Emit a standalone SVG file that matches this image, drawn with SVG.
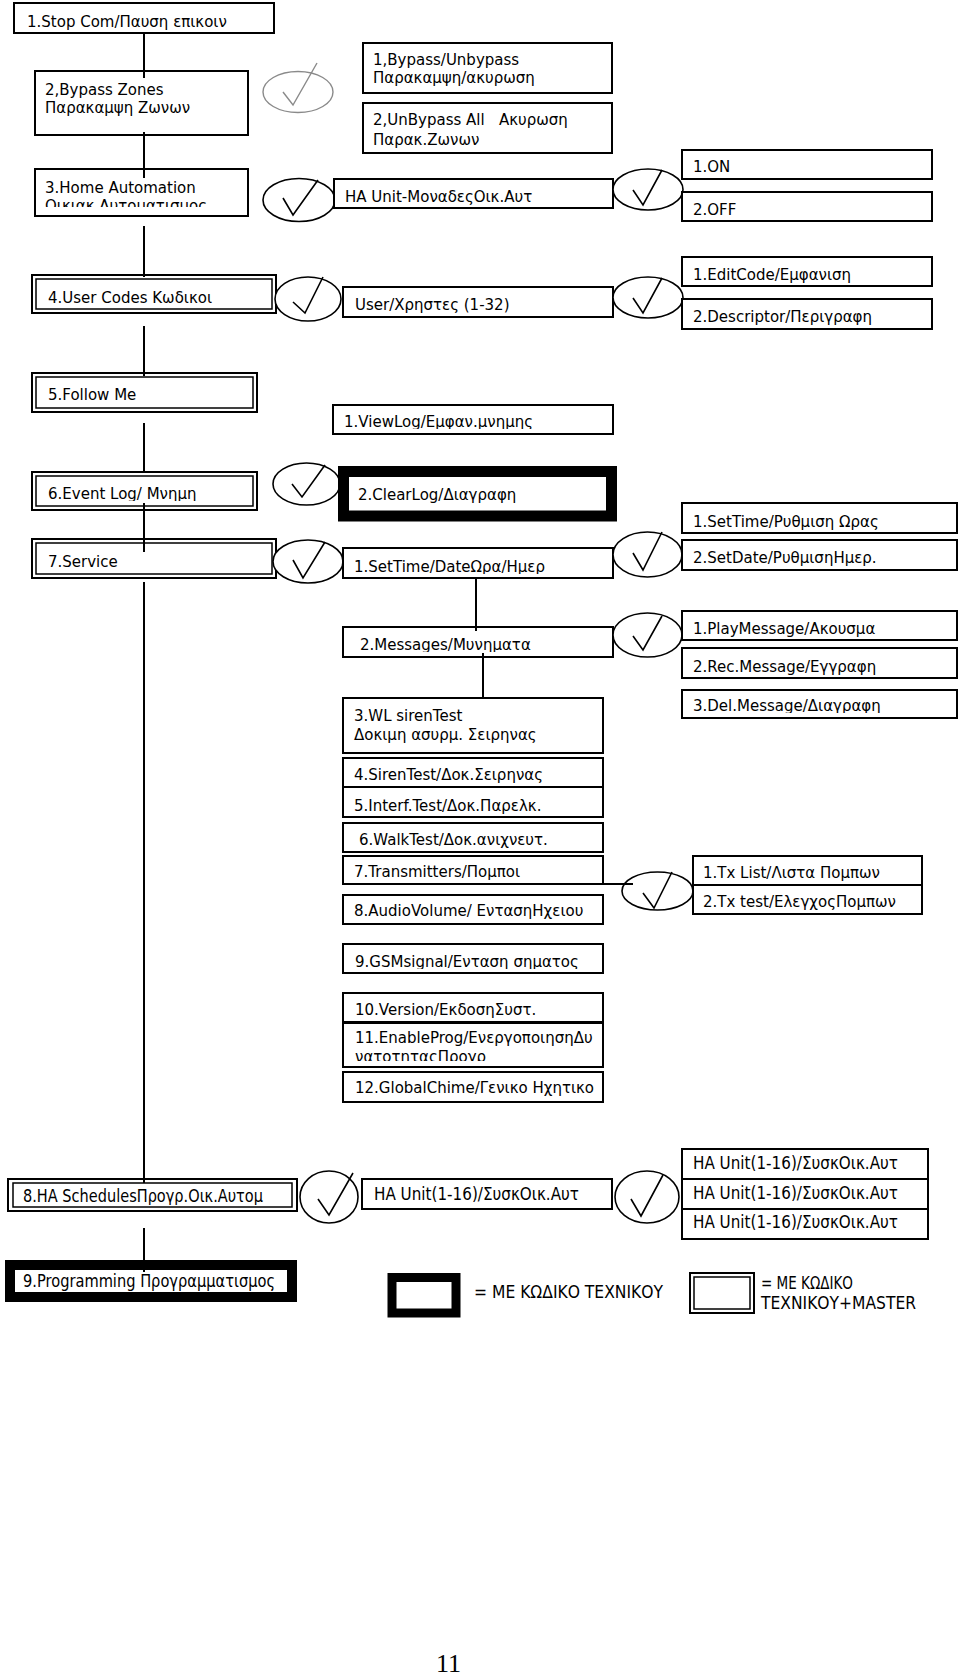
<svg xmlns="http://www.w3.org/2000/svg" width="960" height="1676" viewBox="0 0 960 1676">
<style>
.b{fill:#fff;stroke:#000;stroke-width:2}
.bi{fill:none;stroke:#000;stroke-width:1.5}
.k{fill:none;stroke:#000;stroke-width:11}
.t{font-family:"DejaVu Sans","Noto Sans",sans-serif;font-size:15px;fill:#000;white-space:pre}
.n{font-family:"DejaVu Sans","Noto Sans",sans-serif;font-size:17px;fill:#000;white-space:pre}
.e{fill:#fff;stroke:#000;stroke-width:1.6}
.eg{fill:#fff;stroke:#8a8a8a;stroke-width:1.4}
.ck{fill:none;stroke:#000;stroke-width:1.6;stroke-linejoin:miter}
.ckg{fill:none;stroke:#8a8a8a;stroke-width:1.4}
.ln{fill:none;stroke:#000;stroke-width:2}
.pg{font-family:"Liberation Serif","Times New Roman",serif;font-size:26px;fill:#000}
</style>
<defs>
<clipPath id="c3" clipPathUnits="userSpaceOnUse"><rect x="35" y="169" width="213" height="38"/></clipPath>
<clipPath id="c6" clipPathUnits="userSpaceOnUse"><rect x="36" y="476" width="217" height="25"/></clipPath>
<clipPath id="c11" clipPathUnits="userSpaceOnUse"><rect x="343" y="1023" width="260" height="38"/></clipPath>
<clipPath id="c8" clipPathUnits="userSpaceOnUse"><rect x="13" y="1183" width="280" height="22"/></clipPath>
<clipPath id="cPlay" clipPathUnits="userSpaceOnUse"><rect x="682" y="611" width="275" height="26"/></clipPath>
<clipPath id="cRec" clipPathUnits="userSpaceOnUse"><rect x="682" y="648" width="275" height="27"/></clipPath>
<clipPath id="cDel" clipPathUnits="userSpaceOnUse"><rect x="682" y="690" width="275" height="23"/></clipPath>
<clipPath id="cMsg" clipPathUnits="userSpaceOnUse"><rect x="343" y="627" width="270" height="25"/></clipPath>
<clipPath id="cGsm" clipPathUnits="userSpaceOnUse"><rect x="343" y="944" width="260" height="25"/></clipPath>
<clipPath id="cView" clipPathUnits="userSpaceOnUse"><rect x="333" y="405" width="280" height="24"/></clipPath>
<clipPath id="cDesc" clipPathUnits="userSpaceOnUse"><rect x="682" y="299" width="250" height="26"/></clipPath>
<clipPath id="cSTD" clipPathUnits="userSpaceOnUse"><rect x="343" y="548" width="270" height="26"/></clipPath>
</defs>
<rect width="960" height="1676" fill="#fff"/>

<!-- main menu column -->
<g id="m1"><rect class="b" x="14" y="3" width="260" height="30"/><text class="t" x="27" y="27">1.Stop Com/Παυση επικοιν</text></g>
<g id="m2"><rect class="b" x="35" y="71" width="213" height="64"/><text class="t" x="45" y="95">2,Bypass Zones</text><text class="t" x="45" y="113">Παρακαμψη Ζωνων</text></g>
<g id="m3"><rect class="b" x="35" y="169" width="213" height="47"/><text class="t" x="45" y="193">3.Home Automation</text><text class="t" x="45" y="211" clip-path="url(#c3)">Οικιακ Αυτοματισμος</text></g>
<g id="m4"><rect class="b" x="32" y="275" width="244" height="38"/><rect class="bi" x="36" y="279" width="236" height="30"/><text class="t" x="48" y="303">4.User Codes Κωδικοι</text></g>
<g id="m5"><rect class="b" x="32" y="373" width="225" height="39"/><rect class="bi" x="36" y="377" width="217" height="31"/><text class="t" x="48" y="400">5.Follow Me</text></g>
<g id="m6"><rect class="b" x="32" y="472" width="225" height="38"/><rect class="bi" x="36" y="476" width="217" height="30"/><text class="t" x="48" y="499" clip-path="url(#c6)">6.Event Log/ Μνημη</text></g>
<g id="m7"><rect class="b" x="32" y="539" width="244" height="39"/><rect class="bi" x="36" y="543" width="236" height="31"/><text class="t" x="48" y="567">7.Service</text></g>
<g id="m8"><rect class="b" x="8" y="1179" width="289" height="32"/><rect class="bi" x="13" y="1183" width="279" height="24"/><text class="n" x="23" y="1202" textLength="240" lengthAdjust="spacingAndGlyphs" clip-path="url(#c8)">8.HA SchedulesΠρογρ.Οικ.Αυτομ</text></g>
<g id="m9"><rect class="b" x="10" y="1265" width="282" height="32" style="stroke-width:10"/><text class="n" x="23" y="1287" textLength="252" lengthAdjust="spacingAndGlyphs">9.Programming Προγραμματισμος</text></g>

<!-- bypass -->
<g id="e1"><ellipse class="eg" cx="298" cy="92" rx="35" ry="20.5"/><polyline class="ckg" points="283,92 293,105 317,63"/></g>
<g id="bp1"><rect class="b" x="363" y="43" width="249" height="50"/><text class="t" x="373" y="65">1,Bypass/Unbypass</text><text class="t" x="373" y="83">Παρακαμψη/ακυρωση</text></g>
<g id="bp2"><rect class="b" x="363" y="103" width="249" height="50"/><text class="t" x="373" y="125" xml:space="preserve">2,UnBypass All   Ακυρωση</text><text class="t" x="373" y="145">Παρακ.Ζωνων</text></g>

<!-- home automation -->
<g id="e2"><ellipse class="e" cx="299" cy="200" rx="36" ry="21.5"/><polyline class="ck" points="283,198 293,215 318,180"/></g>
<g id="ha"><rect class="b" x="334" y="179" width="279" height="29"/><text class="t" x="345" y="202">HA Unit-ΜοναδεςΟικ.Αυτ</text></g>
<g id="e3"><ellipse class="e" cx="648" cy="189.5" rx="35" ry="20.5"/><polyline class="ck" points="633,190 643,205 662,170"/></g>
<g id="on"><rect class="b" x="682" y="150" width="250" height="29"/><text class="t" x="693" y="172">1.ON</text></g>
<g id="off"><rect class="b" x="682" y="192" width="250" height="29"/><text class="t" x="693" y="215">2.OFF</text></g>

<!-- user codes -->
<g id="e5"><ellipse class="e" cx="308" cy="299" rx="33" ry="22"/><polyline class="ck" points="293,302 305,313 323,277"/></g>
<g id="user"><rect class="b" x="343" y="287" width="270" height="30"/><text class="t" x="355" y="310">User/Χρηστες (1-32)</text></g>
<g id="e4"><ellipse class="e" cx="648" cy="297.5" rx="35" ry="20.5"/><polyline class="ck" points="633,298 643,313 662,278"/></g>
<g id="edit"><rect class="b" x="682" y="257" width="250" height="29"/><text class="t" x="693" y="280">1.EditCode/Εμφανιση</text></g>
<g id="desc"><rect class="b" x="682" y="299" width="250" height="30"/><text class="t" x="693" y="322" clip-path="url(#cDesc)">2.Descriptor/Περιγραφη</text></g>

<!-- event log -->
<g id="view"><rect class="b" x="333" y="405" width="280" height="29"/><text class="t" x="344" y="427" clip-path="url(#cView)">1.ViewLog/Εμφαν.μνημης</text></g>
<g id="e6"><ellipse class="e" cx="306.5" cy="484" rx="33.5" ry="21"/><polyline class="ck" points="292,484 302,497 325,465"/></g>
<g id="clear"><rect class="k" x="343.5" y="471.5" width="268" height="44.5"/><text class="t" x="358" y="500">2.ClearLog/Διαγραφη</text></g>

<!-- service -->
<g id="e7"><ellipse class="e" cx="308" cy="561.5" rx="35" ry="21.5"/><polyline class="ck" points="293,560 303,578 325,542"/></g>
<g id="std"><rect class="b" x="343" y="548" width="270" height="30"/><text class="t" x="354" y="572" clip-path="url(#cSTD)">1.SetTime/DateΩρα/Ημερ</text></g>
<g id="e8"><ellipse class="e" cx="647.5" cy="554.5" rx="34.5" ry="22.5"/><polyline class="ck" points="633,553 643,570 662,532"/></g>
<g id="st"><rect class="b" x="682" y="503" width="275" height="30"/><text class="t" x="693" y="527">1.SetTime/Ρυθμιση Ωρας</text></g>
<g id="sd"><rect class="b" x="682" y="540" width="275" height="30"/><text class="t" x="693" y="563">2.SetDate/ΡυθμισηΗμερ.</text></g>

<g id="msg"><rect class="b" x="343" y="627" width="270" height="30"/><text class="t" x="360" y="650" clip-path="url(#cMsg)">2.Messages/Μυνηματα</text></g>
<g id="e9"><ellipse class="e" cx="647.5" cy="635" rx="34.5" ry="22"/><polyline class="ck" points="633,636 643,650 662,616"/></g>
<g id="play"><rect class="b" x="682" y="611" width="275" height="29"/><text class="t" x="693" y="634" clip-path="url(#cPlay)">1.PlayMessage/Ακουσμα</text></g>
<g id="rec"><rect class="b" x="682" y="648" width="275" height="30"/><text class="t" x="693" y="672" clip-path="url(#cRec)">2.Rec.Message/Εγγραφη</text></g>
<g id="del"><rect class="b" x="682" y="690" width="275" height="28"/><text class="t" x="693" y="711" clip-path="url(#cDel)">3.Del.Message/Διαγραφη</text></g>

<g id="wl"><rect class="b" x="343" y="698" width="260" height="55"/><text class="t" x="354" y="721">3.WL sirenTest</text><text class="t" x="354" y="740">Δοκιμη ασυρμ. Σειρηνας</text></g>
<g id="siren"><rect class="b" x="343" y="758" width="260" height="29"/><text class="t" x="354" y="780">4.SirenTest/Δοκ.Σειρηνας</text></g>
<g id="interf"><rect class="b" x="343" y="787" width="260" height="30"/><text class="t" x="354" y="811">5.Interf.Test/Δοκ.Παρελκ.</text></g>
<g id="walk"><rect class="b" x="343" y="823" width="260" height="29"/><text class="t" x="359" y="845">6.WalkTest/Δοκ.ανιχνευτ.</text></g>
<g id="tx"><rect class="b" x="343" y="856" width="260" height="28"/><text class="t" x="354" y="877">7.Transmitters/Πομποι</text></g>
<g id="audio"><rect class="b" x="343" y="895" width="260" height="29"/><text class="t" x="354" y="916">8.AudioVolume/ ΕντασηΗχειου</text></g>
<g id="e10"><ellipse class="e" cx="657.5" cy="891" rx="35.5" ry="19"/><polyline class="ck" points="643,893 654,908 672,872"/></g>
<g id="txl"><rect class="b" x="693" y="856" width="229" height="29"/><text class="t" x="703" y="878">1.Tx List/Λιστα Πομπων</text></g>
<g id="txt"><rect class="b" x="693" y="885" width="229" height="29"/><text class="t" x="703" y="907">2.Tx test/ΕλεγχοςΠομπων</text></g>
<g id="gsm"><rect class="b" x="343" y="944" width="260" height="29"/><text class="t" x="355" y="967" clip-path="url(#cGsm)">9.GSMsignal/Ενταση σηματος</text></g>
<g id="ver"><rect class="b" x="343" y="993" width="260" height="29"/><text class="t" x="355" y="1015">10.Version/ΕκδοσηΣυστ.</text></g>
<g id="en"><rect class="b" x="343" y="1023" width="260" height="44"/><text class="t" x="355" y="1043">11.EnableProg/ΕνεργοποιησηΔυ</text><text class="t" x="355" y="1062" clip-path="url(#c11)">νατοτηταςΠρογρ</text></g>
<g id="chime"><rect class="b" x="343" y="1072" width="260" height="30"/><text class="t" x="355" y="1093">12.GlobalChime/Γενικο Ηχητικο</text></g>

<!-- HA schedules -->
<g id="e11"><ellipse class="e" cx="329" cy="1197" rx="29" ry="26"/><polyline class="ck" points="318,1199 329,1215 353,1173"/></g>
<g id="hau"><rect class="b" x="362" y="1179" width="250" height="30"/><text class="n" x="374" y="1200" textLength="205" lengthAdjust="spacingAndGlyphs">HA Unit(1-16)/ΣυσκΟικ.Αυτ</text></g>
<g id="e12"><ellipse class="e" cx="647" cy="1197" rx="32" ry="26"/><polyline class="ck" points="631,1199 641,1216 663,1175"/></g>
<g id="hau1"><rect class="b" x="682" y="1149" width="246" height="30"/><text class="n" x="693" y="1169" textLength="205" lengthAdjust="spacingAndGlyphs">HA Unit(1-16)/ΣυσκΟικ.Αυτ</text></g>
<g id="hau2"><rect class="b" x="682" y="1179" width="246" height="30"/><text class="n" x="693" y="1199" textLength="205" lengthAdjust="spacingAndGlyphs">HA Unit(1-16)/ΣυσκΟικ.Αυτ</text></g>
<g id="hau3"><rect class="b" x="682" y="1209" width="246" height="30"/><text class="n" x="693" y="1228" textLength="205" lengthAdjust="spacingAndGlyphs">HA Unit(1-16)/ΣυσκΟικ.Αυτ</text></g>

<!-- legend -->
<g id="leg1"><rect class="b" x="392" y="1277.5" width="64" height="35.5" style="stroke-width:9"/><text class="n" x="474" y="1298" textLength="189" lengthAdjust="spacingAndGlyphs">= ΜΕ ΚΩΔΙΚΟ ΤΕΧΝΙΚΟΥ</text></g>
<g id="leg2"><rect class="b" x="690" y="1273" width="64" height="40"/><rect class="bi" x="694" y="1277" width="56" height="32"/><text class="n" x="761" y="1289" textLength="92" lengthAdjust="spacingAndGlyphs">= ΜΕ ΚΩΔΙΚΟ</text><text class="n" x="761" y="1309" textLength="155" lengthAdjust="spacingAndGlyphs">ΤΕΧΝΙΚΟΥ+MASTER</text></g>

<text class="pg" x="436" y="1672">11</text>

<g id="connectors">
<path class="ln" d="M144,33V78M144,132V178M144,226V277M144,326V376M144,423V473M144,503V552M144,582V1183M144,1228V1272"/>
<path class="ln" d="M476,578V631M483,653V698M603,884H633"/>
</g>
</svg>
